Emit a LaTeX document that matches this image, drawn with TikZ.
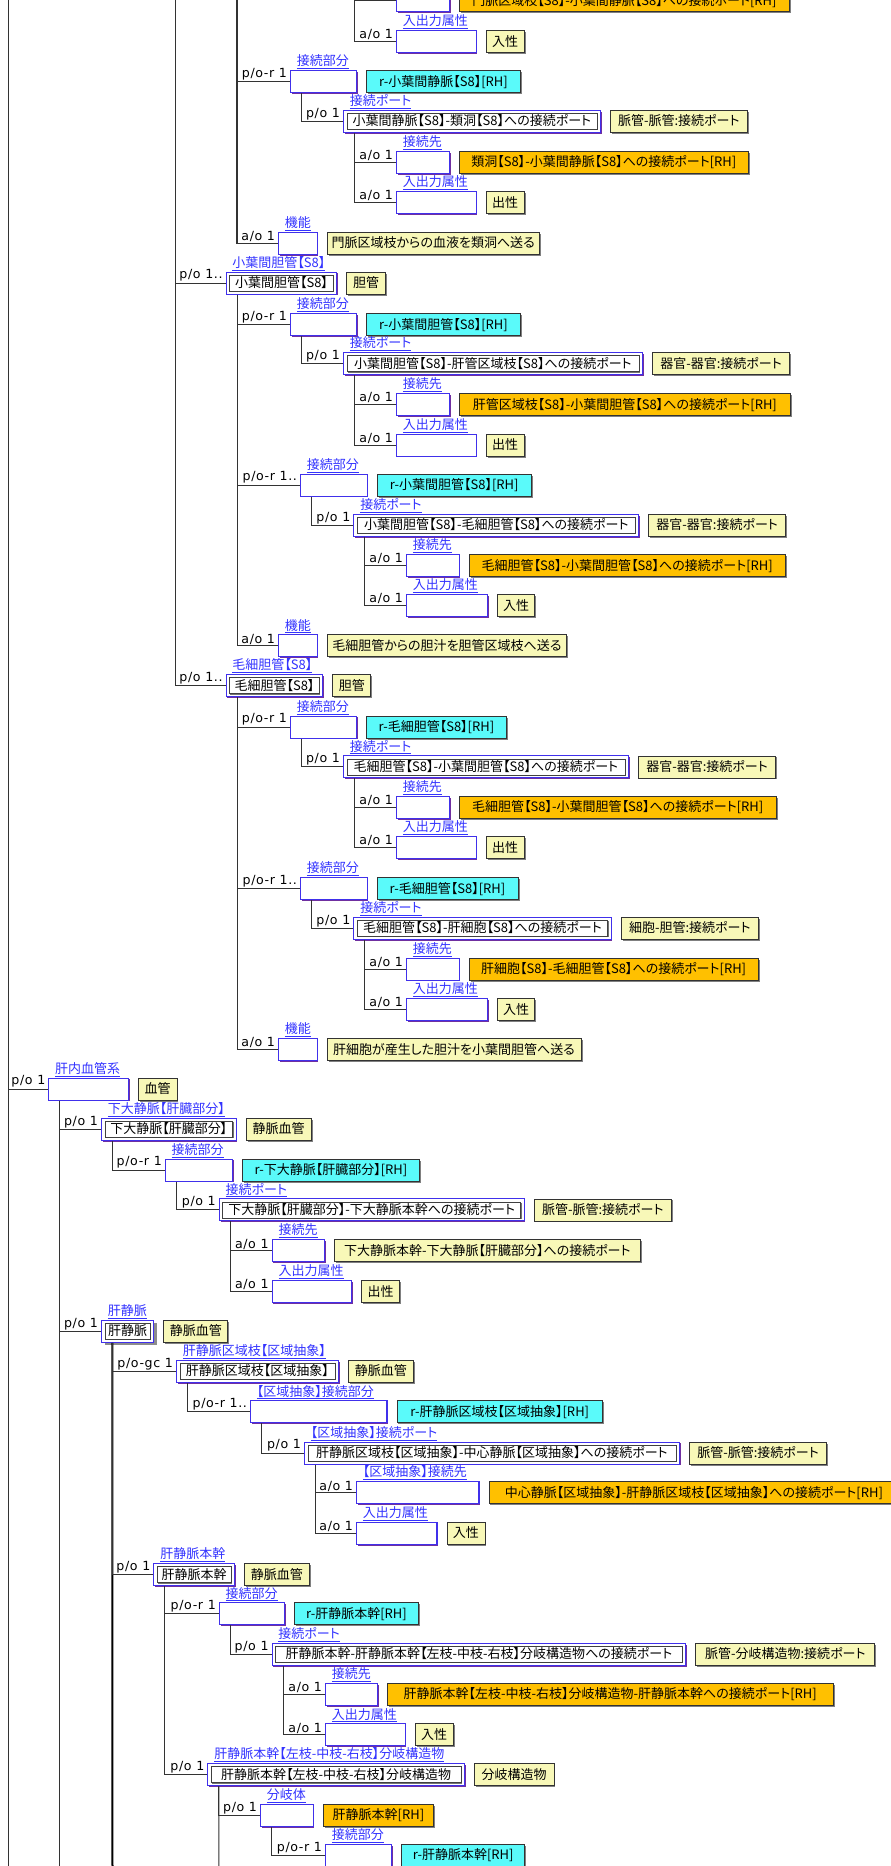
\documentclass[tikz,border=0pt]{standalone}
\usepackage{fontspec}
\setmainfont{Noto Sans CJK JP}[RawFeature={+palt}]
\newfontfamily\labfont{DejaVu Sans}[LetterSpace=5]
\usetikzlibrary{shadows,positioning,fit,backgrounds}
\definecolor{boxblue}{RGB}{64,48,235}
\definecolor{boxpurple}{RGB}{112,48,160}
\definecolor{linkblue}{RGB}{51,51,255}
\definecolor{tagyellow}{RGB}{248,248,184}
\definecolor{tagcyan}{RGB}{90,250,250}
\definecolor{tagorange}{RGB}{255,192,0}
\newcommand{\mainfs}{\fontsize{13}{15}\selectfont}
\newcommand{\labfs}{\labfont\fontsize{12.6}{14}\selectfont}
\tikzset{
 pshad/.style={drop shadow={shadow xshift=1.3pt,shadow yshift=-1.3pt,fill=boxpurple,opacity=1}},
 bigshad/.style={drop shadow={shadow xshift=3pt,shadow yshift=-3pt,fill=black!45,opacity=1}},
 ebox/.style={draw=boxblue, line width=1.1pt, fill=white, minimum height=22pt, inner sep=0pt, anchor=north west, pshad},
 ibox/.style={draw=black!75, line width=0.8pt, fill=white, minimum height=16pt, inner xsep=2pt, inner ysep=0pt, text height=11pt, text depth=2pt, anchor=west, font=\mainfs, drop shadow={shadow xshift=0.9pt,shadow yshift=-0.9pt,fill=black!55,opacity=1}},
 obox/.style={draw=boxblue, line width=1.1pt, fill=white, inner xsep=3pt, inner ysep=2.6pt},
 tag/.style={draw=black!80, line width=0.8pt, minimum height=22pt, inner xsep=3pt, inner ysep=0pt, text height=11pt, text depth=2pt, font=\mainfs, drop shadow={shadow xshift=1.5pt,shadow yshift=-1.5pt,fill=black!50,opacity=1}},
 tagY/.style={tag, fill=tagyellow},
 tagC/.style={tag, fill=tagcyan},
 tagO/.style={tag, fill=tagorange},
 elabel/.style={text=linkblue, inner sep=0.2pt, anchor=south west, font=\mainfs},
 clab/.style={anchor=south east, inner sep=0.3pt, font=\labfs},
 conn/.style={draw=black!80, line width=1.1pt},
 trunk/.style={draw=black, line width=2pt},
}
\newcommand{\EntBox}[5]{%
 \node[ebox, minimum width=#4] (#1) at (#2,#3) {};
 \node[elabel] (#1-l) at ([xshift=6.5pt,yshift=0.8pt]#1.north west) {\underline{#5}};}
\newcommand{\DblBox}[7]{%
 \node[ibox, minimum width=#4] (#1-i) at (#2+3.5,#3+11.4) {#5};
 \begin{scope}[on background layer]
  \node[obox, #7, fit=(#1-i)] (#1) {};
 \end{scope}
 \node[elabel] (#1-l) at ([xshift=6.5pt,yshift=0.8pt]#1.north west) {\underline{#6}};}
\newcommand{\TagBox}[5]{\node[#3, minimum width=#4, right=9pt of #2] (#1) {#5};}
\newcommand{\ConLab}[2]{\node[clab] (#1-c) at ([xshift=-2.5pt,yshift=1pt]#1.west) {#2};}
\newcommand{\ConLink}[2]{\draw[conn] ([xshift=11.5pt]#1.south west) |- (#2.west);}
\begin{document}
\begin{tikzpicture}[x=1pt,y=-1pt]
\useasboundingbox (0,0) rectangle (891,1866);
\begin{scope}[on background layer]
 \fill[white] (0,0) rectangle (891,1866);
\end{scope}
\clip (0,0) rectangle (891,1866);
\coordinate (t0) at (8.5,-20);
\coordinate (b0) at (8.5,1880);
\coordinate (tB) at (175.6,-20);
\coordinate (tA) at (237,-20);
\coordinate (tA4) at (354.6,-20);
% ---- group A
\node[ebox, minimum width=53] (A1) at (396,-10.7) {};
\TagBox{A1t}{A1}{tagO}{330}{門脈区域枝【S8】-小葉間静脈【S8】への接続ポート[RH]}
\EntBox{A2}{396}{30}{79.6}{入出力属性}
\TagBox{A2t}{A2}{tagY}{38}{入性}
\ConLab{A2}{a/o 1}
\EntBox{A3}{290}{70}{66}{接続部分}
\TagBox{A3t}{A3}{tagC}{154}{r-小葉間静脈【S8】[RH]}
\ConLab{A3}{p/o-r 1}
\DblBox{A4}{343}{110}{250}{小葉間静脈【S8】-類洞【S8】への接続ポート}{接続ポート}{pshad}
\TagBox{A4t}{A4}{tagY}{137}{脈管-脈管:接続ポート}
\ConLab{A4}{p/o 1}
\EntBox{A5}{396}{150.7}{53}{接続先}
\TagBox{A5t}{A5}{tagO}{288.6}{類洞【S8】-小葉間静脈【S8】への接続ポート[RH]}
\ConLab{A5}{a/o 1}
\EntBox{A6}{396}{191}{79.6}{入出力属性}
\TagBox{A6t}{A6}{tagY}{38}{出性}
\ConLab{A6}{a/o 1}
\EntBox{A7}{278}{231.7}{38.5}{機能}
\TagBox{A7t}{A7}{tagY}{212.5}{門脈区域枝からの血液を類洞へ送る}
\ConLab{A7}{a/o 1}
\draw[conn] (tA4) |- (A1.west);
\draw[conn] (tA4) |- (A2.west);
\draw[conn] (tA) |- (A3.west);
\draw[conn] (tA) |- (A7.west);
\ConLink{A3}{A4}
\ConLink{A4}{A5}
\ConLink{A4}{A6}
% ---- group B
\DblBox{B0}{225.6}{271.7}{104}{小葉間胆管【S8】}{小葉間胆管【S8】}{pshad}
\TagBox{B0t}{B0}{tagY}{38.6}{胆管}
\ConLab{B0}{p/o 1..}
\EntBox{B1}{290}{313}{66}{接続部分}
\TagBox{B1t}{B1}{tagC}{154}{r-小葉間胆管【S8】[RH]}
\ConLab{B1}{p/o-r 1}
\DblBox{B2}{343}{352.3}{292}{小葉間胆管【S8】-肝管区域枝【S8】への接続ポート}{接続ポート}{pshad}
\TagBox{B2t}{B2}{tagY}{137.5}{器官-器官:接続ポート}
\ConLab{B2}{p/o 1}
\EntBox{B3}{396}{393}{53}{接続先}
\TagBox{B3t}{B3}{tagO}{330.7}{肝管区域枝【S8】-小葉間胆管【S8】への接続ポート[RH]}
\ConLab{B3}{a/o 1}
\EntBox{B4}{396}{433.5}{79.6}{入出力属性}
\TagBox{B4t}{B4}{tagY}{38}{出性}
\ConLab{B4}{a/o 1}
\EntBox{B5}{300}{473.5}{66.5}{接続部分}
\TagBox{B5t}{B5}{tagC}{154.5}{r-小葉間胆管【S8】[RH]}
\ConLab{B5}{p/o-r 1..}
\DblBox{B6}{353.4}{514}{278}{小葉間胆管【S8】-毛細胆管【S8】への接続ポート}{接続ポート}{pshad}
\TagBox{B6t}{B6}{tagY}{137}{器官-器官:接続ポート}
\ConLab{B6}{p/o 1}
\EntBox{B7}{406}{554}{52.5}{接続先}
\TagBox{B7t}{B7}{tagO}{316.5}{毛細胆管【S8】-小葉間胆管【S8】への接続ポート[RH]}
\ConLab{B7}{a/o 1}
\EntBox{B8}{406}{594}{81}{入出力属性}
\TagBox{B8t}{B8}{tagY}{37}{入性}
\ConLab{B8}{a/o 1}
\EntBox{B9}{278}{634.3}{38.5}{機能}
\TagBox{B9t}{B9}{tagY}{239.8}{毛細胆管からの胆汁を胆管区域枝へ送る}
\ConLab{B9}{a/o 1}
\draw[conn] (tB) |- (B0.west);
\ConLink{B0}{B1}
\ConLink{B0}{B5}
\ConLink{B0}{B9}
\ConLink{B1}{B2}
\ConLink{B2}{B3}
\ConLink{B2}{B4}
\ConLink{B5}{B6}
\ConLink{B6}{B7}
\ConLink{B6}{B8}
% ---- group C
\DblBox{C0}{225.6}{674.3}{90}{毛細胆管【S8】}{毛細胆管【S8】}{pshad}
\TagBox{C0t}{C0}{tagY}{38}{胆管}
\ConLab{C0}{p/o 1..}
\EntBox{C1}{290}{715.5}{66}{接続部分}
\TagBox{C1t}{C1}{tagC}{139.8}{r-毛細胆管【S8】[RH]}
\ConLab{C1}{p/o-r 1}
\DblBox{C2}{343}{755.5}{278}{毛細胆管【S8】-小葉間胆管【S8】への接続ポート}{接続ポート}{pshad}
\TagBox{C2t}{C2}{tagY}{137.5}{器官-器官:接続ポート}
\ConLab{C2}{p/o 1}
\EntBox{C3}{396}{795.7}{53}{接続先}
\TagBox{C3t}{C3}{tagO}{316.5}{毛細胆管【S8】-小葉間胆管【S8】への接続ポート[RH]}
\ConLab{C3}{a/o 1}
\EntBox{C4}{396}{836}{79.6}{入出力属性}
\TagBox{C4t}{C4}{tagY}{38}{出性}
\ConLab{C4}{a/o 1}
\EntBox{C5}{300}{877}{66.5}{接続部分}
\TagBox{C5t}{C5}{tagC}{141}{r-毛細胆管【S8】[RH]}
\ConLab{C5}{p/o-r 1..}
\DblBox{C6}{353.4}{917}{250.4}{毛細胆管【S8】-肝細胞【S8】への接続ポート}{接続ポート}{pshad}
\TagBox{C6t}{C6}{tagY}{137.5}{細胞-胆管:接続ポート}
\ConLab{C6}{p/o 1}
\EntBox{C7}{406}{957.5}{52.5}{接続先}
\TagBox{C7t}{C7}{tagO}{289.2}{肝細胞【S8】-毛細胆管【S8】への接続ポート[RH]}
\ConLab{C7}{a/o 1}
\EntBox{C8}{406}{998}{81}{入出力属性}
\TagBox{C8t}{C8}{tagY}{37}{入性}
\ConLab{C8}{a/o 1}
\EntBox{C9}{278}{1038}{38.5}{機能}
\TagBox{C9t}{C9}{tagY}{254}{肝細胞が産生した胆汁を小葉間胆管へ送る}
\ConLab{C9}{a/o 1}
\draw[conn] (tB) |- (C0.west);
\ConLink{C0}{C1}
\ConLink{C0}{C5}
\ConLink{C0}{C9}
\ConLink{C1}{C2}
\ConLink{C2}{C3}
\ConLink{C2}{C4}
\ConLink{C5}{C6}
\ConLink{C6}{C7}
\ConLink{C6}{C8}
% ---- group D
\EntBox{D0}{48.3}{1077.5}{79.5}{肝内血管系}
\TagBox{D0t}{D0}{tagY}{38.6}{血管}
\ConLab{D0}{p/o 1}
\DblBox{D1}{101}{1118}{127.8}{下大静脈【肝臓部分】}{下大静脈【肝臓部分】}{pshad}
\TagBox{D1t}{D1}{tagY}{65.3}{静脈血管}
\ConLab{D1}{p/o 1}
\EntBox{D2}{164.8}{1158.5}{67}{接続部分}
\TagBox{D2t}{D2}{tagC}{177.3}{r-下大静脈【肝臓部分】[RH]}
\ConLab{D2}{p/o-r 1}
\DblBox{D3}{218.8}{1198.5}{298}{下大静脈【肝臓部分】-下大静脈本幹への接続ポート}{接続ポート}{pshad}
\TagBox{D3t}{D3}{tagY}{137.5}{脈管-脈管:接続ポート}
\ConLab{D3}{p/o 1}
\EntBox{D4}{271.6}{1239.2}{52.4}{接続先}
\TagBox{D4t}{D4}{tagY}{305.7}{下大静脈本幹-下大静脈【肝臓部分】への接続ポート}
\ConLab{D4}{a/o 1}
\EntBox{D5}{271.6}{1280}{79.4}{入出力属性}
\TagBox{D5t}{D5}{tagY}{38}{出性}
\ConLab{D5}{a/o 1}
\DblBox{D6}{101}{1320}{45.4}{肝静脈}{肝静脈}{bigshad}
\TagBox{D6t}{D6}{tagY}{64.2}{静脈血管}
\ConLab{D6}{p/o 1}
\DblBox{D7}{176}{1360}{155}{肝静脈区域枝【区域抽象】}{肝静脈区域枝【区域抽象】}{pshad}
\TagBox{D7t}{D7}{tagY}{65.3}{静脈血管}
\ConLab{D7}{p/o-gc 1}
\EntBox{D8}{250}{1400.3}{136.4}{【区域抽象】接続部分}
\TagBox{D8t}{D8}{tagC}{205.7}{r-肝静脈区域枝【区域抽象】[RH]}
\ConLab{D8}{p/o-r 1..}
\DblBox{D9}{304}{1441.7}{368}{肝静脈区域枝【区域抽象】-中心静脈【区域抽象】への接続ポート}{【区域抽象】接続ポート}{pshad}
\TagBox{D9t}{D9}{tagY}{137.5}{脈管-脈管:接続ポート}
\ConLab{D9}{p/o 1}
\EntBox{D10}{356}{1481.2}{122.4}{【区域抽象】接続先}
\TagBox{D10t}{D10}{tagO}{410}{中心静脈【区域抽象】-肝静脈区域枝【区域抽象】への接続ポート[RH]}
\ConLab{D10}{a/o 1}
\EntBox{D11}{356}{1521.7}{80.4}{入出力属性}
\TagBox{D11t}{D11}{tagY}{38}{入性}
\ConLab{D11}{a/o 1}
\DblBox{D12}{153.4}{1563.3}{73.6}{肝静脈本幹}{肝静脈本幹}{pshad}
\TagBox{D12t}{D12}{tagY}{65.3}{静脈血管}
\ConLab{D12}{p/o 1}
\EntBox{D13}{218.8}{1602.3}{65.2}{接続部分}
\TagBox{D13t}{D13}{tagC}{123.9}{r-肝静脈本幹[RH]}
\ConLab{D13}{p/o-r 1}
\DblBox{D14}{271.6}{1642.8}{407}{肝静脈本幹-肝静脈本幹【左枝-中枝-右枝】分岐構造物への接続ポート}{接続ポート}{pshad}
\TagBox{D14t}{D14}{tagY}{179}{脈管-分岐構造物:接続ポート}
\ConLab{D14}{p/o 1}
\EntBox{D15}{325}{1682.7}{51.7}{接続先}
\TagBox{D15t}{D15}{tagO}{446}{肝静脈本幹【左枝-中枝-右枝】分岐構造物-肝静脈本幹への接続ポート[RH]}
\ConLab{D15}{a/o 1}
\EntBox{D16}{325}{1723.3}{79.6}{入出力属性}
\TagBox{D16t}{D16}{tagY}{38}{入性}
\ConLab{D16}{a/o 1}
\DblBox{D17}{207.4}{1763.3}{249.8}{肝静脈本幹【左枝-中枝-右枝】分岐構造物}{肝静脈本幹【左枝-中枝-右枝】分岐構造物}{pshad}
\TagBox{D17t}{D17}{tagY}{79.5}{分岐構造物}
\ConLab{D17}{p/o 1}
\EntBox{D18}{260}{1803.7}{52.5}{分岐体}
\TagBox{D18t}{D18}{tagO}{110.8}{肝静脈本幹[RH]}
\ConLab{D18}{p/o 1}
\EntBox{D19}{325}{1843.8}{66}{接続部分}
\TagBox{D19t}{D19}{tagC}{123.3}{r-肝静脈本幹[RH]}
\ConLab{D19}{p/o-r 1}
\coordinate (bD0) at (59.8,1880);
\coordinate (bD6) at (112.5,1880);
\coordinate (bD17) at (218.9,1880);
\draw[conn] (t0) -- (b0);
\draw[conn] (t0) |- (D0.west);
\draw[conn] ([xshift=11.5pt]D0.south west) -- (bD0);
\draw[trunk] ([xshift=11.5pt]D6.south west) -- (bD6);
\draw[conn] ([xshift=11.5pt]D17.south west) -- (bD17);
\ConLink{D0}{D1}
\ConLink{D0}{D6}
\ConLink{D1}{D2}
\ConLink{D2}{D3}
\ConLink{D3}{D4}
\ConLink{D3}{D5}
\ConLink{D6}{D7}
\ConLink{D6}{D12}
\ConLink{D7}{D8}
\ConLink{D8}{D9}
\ConLink{D9}{D10}
\ConLink{D9}{D11}
\ConLink{D12}{D13}
\ConLink{D12}{D17}
\ConLink{D13}{D14}
\ConLink{D14}{D15}
\ConLink{D14}{D16}
\ConLink{D17}{D18}
\ConLink{D18}{D19}
\end{tikzpicture}
\end{document}
